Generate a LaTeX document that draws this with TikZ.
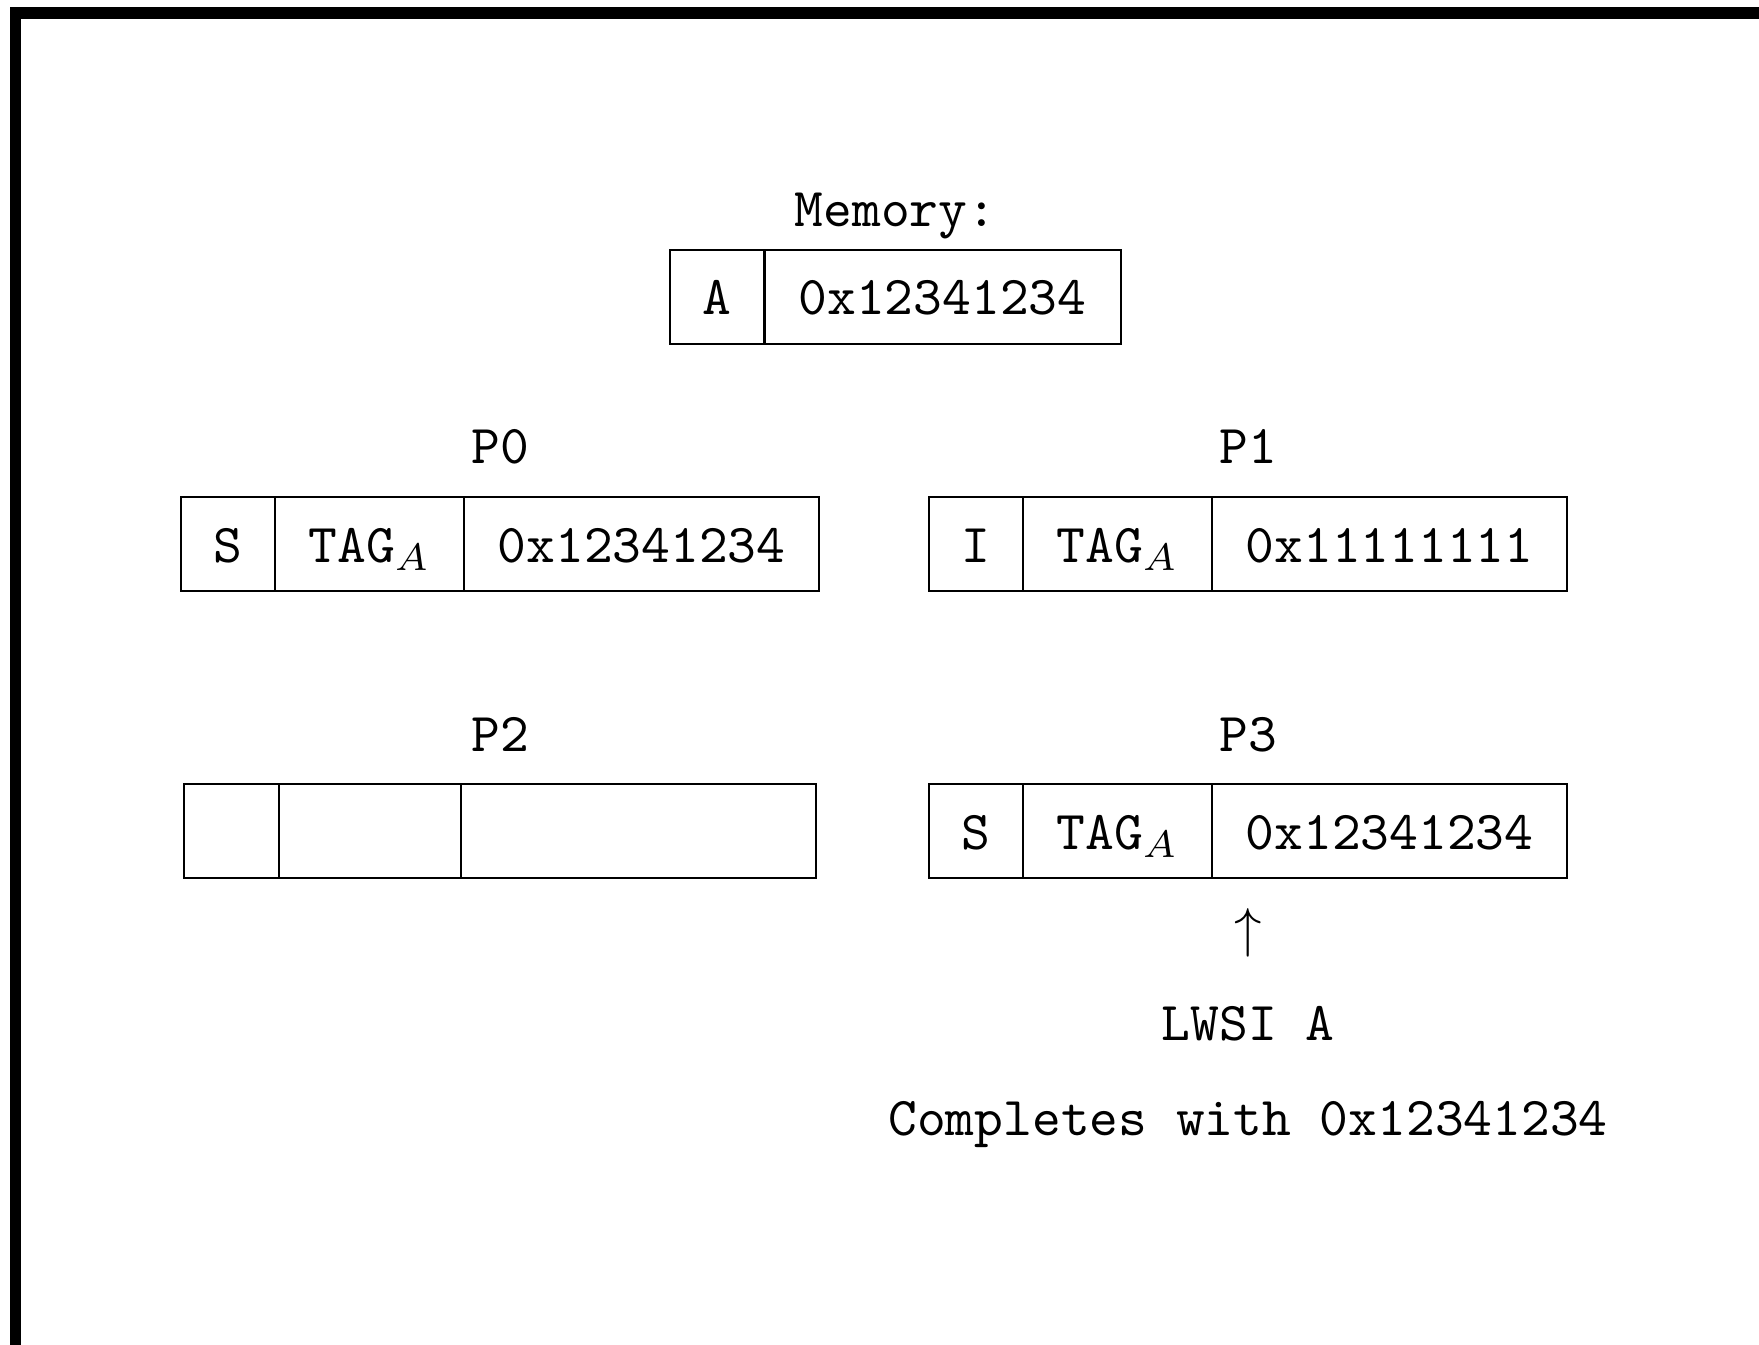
\documentclass[tikz,border=0pt]{standalone}
\usepackage{amsmath,amssymb}
\usetikzlibrary{positioning,fit}
\newcommand{\tagA}{TAG$_A$}

\begin{document}
\begin{tikzpicture}[font=\ttfamily,node distance=0pt,
cell/.style={draw,outer sep=0pt,inner sep=0pt,minimum height=17.2pt,text height=7.5pt,text depth=0.94pt},
stc/.style={cell,minimum width=17.2pt},
tagc/.style={cell,minimum width=34.5pt},
valc/.style={cell,minimum width=64.8pt},
grp/.style={inner sep=0pt,outer sep=0pt},
lbl/.style={text depth=0pt}]
\useasboundingbox (0,0) rectangle (321pt,-245.3pt);
\draw[line width=2.1pt] (2.83pt,-250pt) |- (330pt,-2.37pt);

% memory
\node[stc,anchor=north west] (ma) at (122.3pt,-45.6pt) {A};
\node[cell,minimum width=65pt,right=of ma] (mv) {0x12341234};
\node[grp,fit=(ma)(mv)] (mem) {};
\node[lbl,above=0.8pt of mem] (memlbl) {Memory:};

% P0
\node[stc,anchor=north west] (p0s) at (33pt,-90.7pt) {S};
\node[tagc,right=of p0s] (p0t) {\tagA};
\node[valc,right=of p0t] (p0v) {0x12341234};
\node[grp,fit=(p0s)(p0v)] (p0) {};
\node[lbl,above=2.5pt of p0] (p0lbl) {P0};

% P1
\node[stc,anchor=north west] (p1s) at (169.5pt,-90.7pt) {I};
\node[tagc,right=of p1s] (p1t) {\tagA};
\node[valc,right=of p1t] (p1v) {0x11111111};
\node[grp,fit=(p1s)(p1v)] (p1) {};
\node[lbl,above=2.5pt of p1] (p1lbl) {P1};

% P2
\node[stc,minimum width=17.3pt,anchor=north west] (p2s) at (33.6pt,-143.1pt) {};
\node[tagc,minimum width=33.2pt,right=of p2s] (p2t) {};
\node[valc,right=of p2t] (p2v) {};
\node[grp,fit=(p2s)(p2v)] (p2) {};
\node[lbl,above=2.5pt of p2] (p2lbl) {P2};

% P3
\node[stc,anchor=north west] (p3s) at (169.5pt,-143.1pt) {S};
\node[tagc,right=of p3s] (p3t) {\tagA};
\node[valc,right=of p3t] (p3v) {0x12341234};
\node[grp,fit=(p3s)(p3v)] (p3) {};
\node[lbl,above=2.5pt of p3] (p3lbl) {P3};

\node[below=1.9pt of p3] (up) {$\uparrow$};
\node[lbl,below=2pt of up] (lwsi) {LWSI A};
\node[lbl,below=4pt of lwsi] (done) {Completes with 0x12341234};
\end{tikzpicture}
\end{document}
